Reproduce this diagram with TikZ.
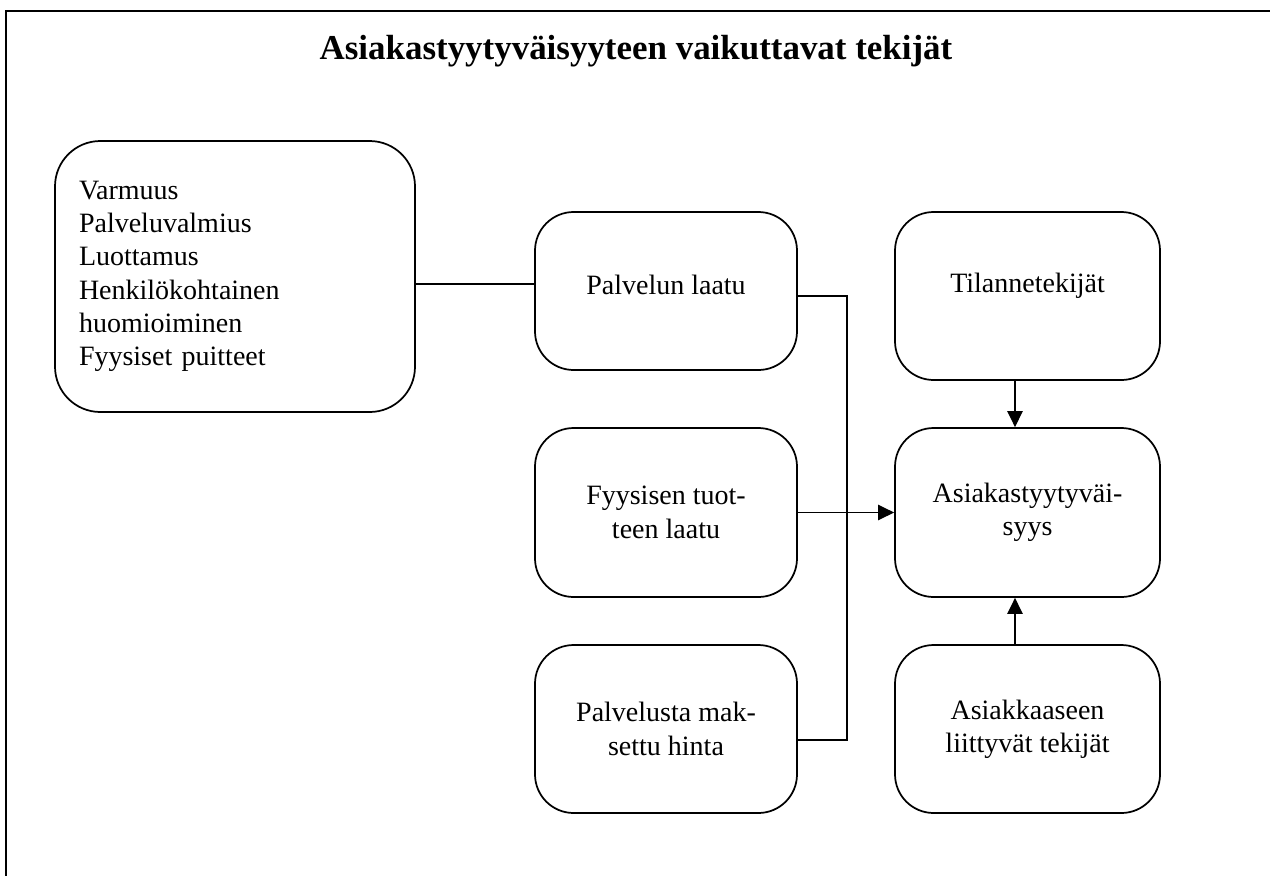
\documentclass[tikz,border=0pt]{standalone}
\usepackage{fontspec}
\setmainfont{Liberation Serif}
\usetikzlibrary{arrows.meta}
\begin{document}
\begin{tikzpicture}[x=0.75pt,y=-0.75pt,
  boxstyle/.style={draw,line width=1.3pt,rounded corners=29pt,align=center,inner sep=0pt,
    font=\fontsize{21}{25}\selectfont},
  conn/.style={line width=1pt},
  arr/.style={line width=1pt,-{Triangle[length=12pt,width=11.5pt]}}]
\useasboundingbox (0,0) rectangle (1270,875);
\draw[line width=1.6pt] (6,880) -- (6,11) -- (1280,11);
\node[anchor=base,font=\fontsize{26.2}{30}\selectfont\bfseries] (title) at (636,59) {Asiakastyytyväisyyteen vaikuttavat tekijät};
\node[boxstyle,rounded corners=34pt,align=left,text width=234pt,inner xsep=18pt,minimum height=203.25pt] (L) at (235,276.5)
  {Varmuus\\Palveluvalmius\\Luottamus\\Henkilökohtainen\\huomioiminen\\Fyysiset puitteet};
\node[boxstyle,minimum width=196.5pt,minimum height=118.5pt] (PL) at (666,291) {\raisebox{4.5pt}[\height][\depth]{Palvelun laatu}};
\node[boxstyle,minimum width=196.5pt,minimum height=126.75pt] (FT) at (666,512.5) {Fyysisen tuot-\\teen laatu};
\node[boxstyle,minimum width=196.5pt,minimum height=126pt] (PH) at (666,729) {Palvelusta mak-\\settu hinta};
\node[boxstyle,minimum width=198.75pt,minimum height=126pt] (TT) at (1027.5,296) {\raisebox{7.5pt}[\height][\depth]{Tilannetekijät}};
\node[boxstyle,minimum width=198.75pt,minimum height=126.75pt] (AS) at (1027.5,512.5) {Asiakastyytyväi-\\syys};
\node[boxstyle,minimum width=198.75pt,minimum height=126pt] (AT) at (1027.5,729) {Asiakkaaseen\\liittyvät tekijät};
\coordinate (c1) at (0,284);
\coordinate (j1) at (847,296);
\coordinate (j2) at (847,740);
\coordinate (ax) at (1015,0);
\draw[conn] (L.east |- c1) -- (PL.west |- c1);
\draw[conn] (PL.east |- j1) -- (j1) -- (j2) -- (PH.east |- j2);
\draw[arr] (FT.east) -- (AS.west);
\draw[arr] (TT.south -| ax) -- (AS.north -| ax);
\draw[arr] (AT.north -| ax) -- (AS.south -| ax);
\end{tikzpicture}
\end{document}
